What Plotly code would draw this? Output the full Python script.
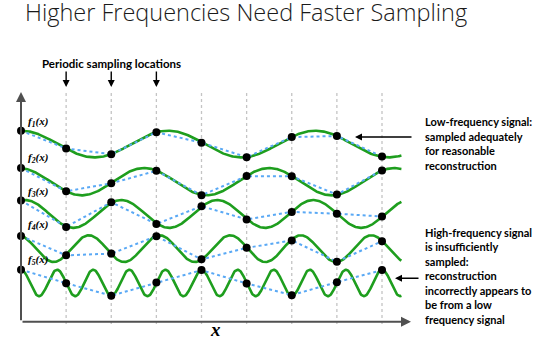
import numpy as np
import plotly.graph_objects as go

W, H = 542, 342

# ---------------- data ----------------
sample_positions = [0, 1, 2, 3, 4, 5, 6, 7, 8]
signal_labels = ["1", "2", "3", "4", "5"]
signal_centers = [13.16, 10.37, 7.98, 5.41, 2.87]
signal_amplitudes = [0.99, 1.01, 1.03, 0.99, 0.98]
signal_periods = [3.26, 2.77, 2.127, 1.565, 0.8]
signal_peak_offsets = [0.0, -0.04, 0.095, -0.06, 0.0]
curve_end = 8.43

f1_samples = [1.0, -0.33, -0.76, 0.88, 0.10, -0.98, 0.52, 0.60, -0.93]
f2_samples = [1.0, -0.70, -0.12, 0.80, -0.99, 0.41, 0.40, -0.94, 0.83]
f3_samples = [0.97, -0.93, 0.84, -0.72, 0.56, -0.39, 0.15, 0.02, -0.18]
f4_samples = [0.95, -0.50, -0.37, 0.93, -0.80, 0.06, 0.62, -0.97, 0.56]
f5_samples = [1.0, -0.02, -0.96, 0.03, 0.97, -0.04, -0.92, 0.06, 0.97]
all_samples = [f1_samples, f2_samples, f3_samples, f4_samples, f5_samples]

title_text = "Higher Frequencies Need Faster Sampling"
top_note = "Periodic sampling locations"
note_low = ["Low-frequency signal:", "sampled adequately", "for reasonable", "reconstruction"]
note_high = ["High-frequency signal", "is insufficiently", "sampled:", "reconstruction",
             "incorrectly appears to", "be from a low", "frequency signal"]

# ---------------- geometry helpers ----------------
X0_PX, UNIT_X = 21.0, 45.125     # pixel of x=0, px per sample
Y0_PX, UNIT_Y = 321.7, 13.5      # pixel of y=0, px per unit
x_range = [-X0_PX / UNIT_X, (W - X0_PX) / UNIT_X]
y_range = [(Y0_PX - H) / UNIT_Y, Y0_PX / UNIT_Y]


def px(xp):
    return xp / W


def py(yp):
    return 1 - yp / H


GREEN = "#1e9e1e"
BLUE = "#5aa9f5"
GRID = "#c4c4c4"
AXIS = "#505050"

fig = go.Figure()

# green signals
xs = np.linspace(0, curve_end, 600)
for c, a, p, o in zip(signal_centers, signal_amplitudes, signal_periods, signal_peak_offsets):
    fig.add_trace(go.Scatter(x=xs, y=c + a * np.cos(2 * np.pi * (xs - o) / p), mode="lines",
                             line=dict(color=GREEN, width=2.6), hoverinfo="skip"))

# blue reconstructions + black sample dots
for c, a, s in zip(signal_centers, signal_amplitudes, all_samples):
    ys = [c + a * v for v in s]
    fig.add_trace(go.Scatter(x=sample_positions, y=ys, mode="lines",
                             line=dict(color=BLUE, width=2, dash="dot"), hoverinfo="skip"))
for c, a, s in zip(signal_centers, signal_amplitudes, all_samples):
    ys = [c + a * v for v in s]
    fig.add_trace(go.Scatter(x=sample_positions, y=ys, mode="markers",
                             marker=dict(color="black", size=8), hoverinfo="skip"))

shapes = []
for sp in sample_positions[1:]:
    shapes.append(dict(type="line", xref="x", yref="y", x0=sp, x1=sp,
                       y0=(Y0_PX - 324) / UNIT_Y, y1=(Y0_PX - 93) / UNIT_Y,
                       line=dict(color=GRID, width=1.3, dash="dot"), layer="below"))

annotations = []


def arrow(x_head, y_head, x_tail, y_tail, color="black", width=1.4):
    annotations.append(dict(x=x_head, y=y_head, ax=x_tail, ay=y_tail, xref="x", yref="y",
                            axref="x", ayref="y", text="", showarrow=True, arrowhead=2,
                            arrowsize=1, arrowwidth=width, arrowcolor=color, standoff=0,
                            startstandoff=0))


# axes
arrow(0, (Y0_PX - 92) / UNIT_Y, 0, 0, AXIS, 2)
arrow((411 - X0_PX) / UNIT_X, 0, 0, 0, AXIS, 2)
# sampling arrows
for sp in sample_positions[1:4]:
    arrow(sp, (Y0_PX - 87) / UNIT_Y, sp, (Y0_PX - 70) / UNIT_Y)
# right arrows
arrow((355 - X0_PX) / UNIT_X, (Y0_PX - 137) / UNIT_Y, (413 - X0_PX) / UNIT_X, (Y0_PX - 137) / UNIT_Y)
arrow((395 - X0_PX) / UNIT_X, (Y0_PX - 278.3) / UNIT_Y, (420 - X0_PX) / UNIT_X, (Y0_PX - 278.3) / UNIT_Y)

# title
annotations.append(dict(x=px(23), y=py(-6), xref="paper", yref="paper", xanchor="left",
                        yanchor="top", text=title_text, showarrow=False,
                        font=dict(family="Open Sans", size=23.5, color="#1a1a1a", weight=300)))
annotations.append(dict(x=px(111.7), y=py(63.3), xref="paper", yref="paper", xanchor="center",
                        yanchor="middle", text=top_note, showarrow=False,
                        font=dict(family="Lato", size=11.5, color="black", weight="bold")))

label_y = [121.7, 157.7, 192.3, 225.0, 260.0]
for lab, ly in zip(signal_labels, label_y):
    annotations.append(dict(x=px(26), y=py(ly), xref="paper", yref="paper", xanchor="left",
                            yanchor="middle", text=f"<b><i>f<sub>{lab}</sub>(x)</i></b>",
                            showarrow=False,
                            font=dict(family="Liberation Serif", size=11, color="black")))

annotations.append(dict(x=px(215), y=py(329), xref="paper", yref="paper", xanchor="center",
                        yanchor="middle", text="<b><i>x</i></b>", showarrow=False,
                        font=dict(family="Liberation Serif", size=19, color="black")))

for i, line in enumerate(note_low):
    annotations.append(dict(x=px(423), y=py(121.7 + 14.45 * i), xref="paper", yref="paper",
                            xanchor="left", yanchor="middle", text=line, showarrow=False,
                            font=dict(family="Lato", size=11, color="black", weight="bold")))
for i, line in enumerate(note_high):
    annotations.append(dict(x=px(423), y=py(232.3 + 14.45 * i), xref="paper", yref="paper",
                            xanchor="left", yanchor="middle", text=line, showarrow=False,
                            font=dict(family="Lato", size=11, color="black", weight="bold")))

fig.update_layout(
    width=W, height=H, margin=dict(l=0, r=0, t=0, b=0),
    paper_bgcolor="white", plot_bgcolor="white", showlegend=False,
    xaxis=dict(range=x_range, visible=False, fixedrange=True),
    yaxis=dict(range=y_range, visible=False, fixedrange=True),
    shapes=shapes, annotations=annotations,
)

fig.write_html("out.html")
